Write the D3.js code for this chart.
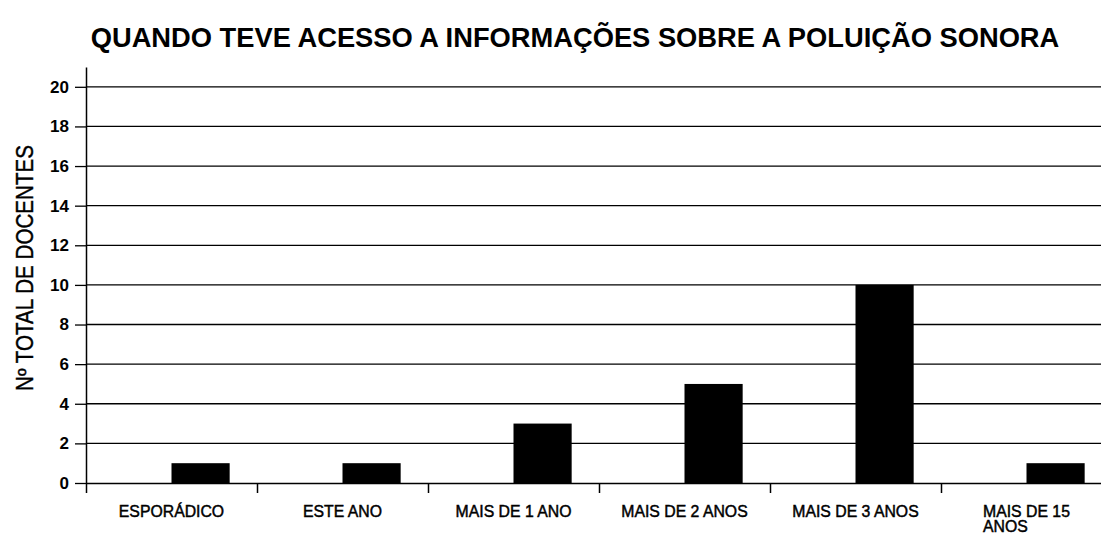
<!DOCTYPE html>
<html>
<head>
<meta charset="utf-8">
<script src="https://cdn.jsdelivr.net/npm/d3@7"></script>
<style>
  body { margin: 0; background: #fff; }
  svg { display: block; font-family: "Liberation Sans", Arial, sans-serif; }
</style>
</head>
<body>
<svg id="chart"></svg>
<script>
// dados
const categorias = ["ESPORÁDICO", "ESTE ANO", "MAIS DE 1 ANO", "MAIS DE 2 ANOS", "MAIS DE 3 ANOS", "MAIS DE 15 ANOS"]
const rotulos = [["ESPORÁDICO"], ["ESTE ANO"], ["MAIS DE 1 ANO"], ["MAIS DE 2 ANOS"], ["MAIS DE 3 ANOS"], ["MAIS DE 15", "ANOS"]]
const docentes = [1, 1, 3, 5, 10, 1]
const yTicks = [0, 2, 4, 6, 8, 10, 12, 14, 16, 18, 20]
const titulo = "QUANDO TEVE ACESSO A INFORMAÇÕES SOBRE A POLUIÇÃO SONORA"
const tituloY = "Nº TOTAL DE DOCENTES"

const width = 1101, height = 534
const margin = {top: 67, right: -11, bottom: 51, left: 86}

const svg = d3.select("#chart")
              .attr("width", width)
              .attr("height", height)

const x = d3.scaleBand()
            .domain(categorias)
            .range([margin.left, width - margin.right])
            .padding(0)

// serie vazia + serie de docentes (barra fica na metade direita da categoria)
const xSub = d3.scaleBand()
               .domain(["vazio", "docentes"])
               .range([0, x.bandwidth()])
               .paddingInner(0)
               .paddingOuter(0.47)

const y = d3.scaleLinear()
            .domain([0, 21])
            .range([height - margin.bottom, margin.top])

// linhas de grade
svg.append("g")
   .selectAll("line")
   .data(yTicks.slice(1))
   .join("line")
     .attr("x1", margin.left)
     .attr("x2", width - margin.right)
     .attr("y1", d => y(d))
     .attr("y2", d => y(d))
     .attr("stroke", "#000")
     .attr("stroke-width", 1.3)

// barras
svg.append("g")
   .selectAll("rect")
   .data(docentes)
   .join("rect")
     .attr("x", (d, i) => x(categorias[i]) + xSub("docentes"))
     .attr("width", xSub.bandwidth())
     .attr("y", d => y(d))
     .attr("height", d => y(0) - y(d))
     .attr("fill", "#000")

// eixo y
const yAxis = svg.append("g")
   .attr("transform", `translate(${margin.left},0)`)
   .call(d3.axisLeft(y).tickValues(yTicks).tickSize(11).tickPadding(6).tickSizeOuter(0))
yAxis.select(".domain").attr("stroke-width", 1.5)
yAxis.selectAll(".tick line").attr("stroke-width", 1.3)
yAxis.selectAll("text")
     .attr("font-size", 17)
     .attr("font-weight", "bold")
     .attr("fill", "#000")
     .attr("font-family", "Liberation Sans, Arial, sans-serif")

// eixo x (marcas nas divisas das categorias)
const xEdge = d3.scaleLinear()
                .domain([0, categorias.length])
                .range(x.range())
const xAxis = svg.append("g")
   .attr("transform", `translate(0,${y(0)})`)
   .call(d3.axisBottom(xEdge).tickValues(d3.range(categorias.length + 1)).tickFormat("").tickSize(10).tickSizeOuter(0))
xAxis.select(".domain").attr("stroke-width", 1.5)
xAxis.selectAll(".tick line").attr("stroke-width", 1.5)

// rotulos das categorias
const rot = svg.append("g")
   .selectAll("text")
   .data(rotulos)
   .join("text")
     .attr("font-size", 15.8)
     .attr("fill", "#000")
     .attr("stroke", "#000")
     .attr("stroke-width", 0.45)
     .attr("y", 517)

rot.each(function(linhas, i) {
  const t = d3.select(this)
  const cx = x(categorias[i]) + x.bandwidth() / 2
  if (linhas.length === 1) {
    t.attr("x", cx).attr("text-anchor", "middle").text(linhas[0])
  } else {
    t.text(linhas[0])
    const w = this.getComputedTextLength()
    t.text("")
    linhas.forEach((l, j) => {
      t.append("tspan")
       .attr("x", cx - w / 2)
       .attr("dy", j === 0 ? 0 : 15)
       .text(l)
    })
  }
})

// titulo
svg.append("text")
   .attr("x", 575)
   .attr("y", 47)
   .attr("text-anchor", "middle")
   .attr("font-size", 27.3)
   .attr("font-weight", "bold")
   .text(titulo)

// titulo do eixo y (fonte estreita no original)
svg.append("text")
   .attr("transform", `translate(33,268) rotate(-90)`)
   .attr("text-anchor", "middle")
   .attr("font-size", 23)
   .attr("stroke", "#000")
   .attr("stroke-width", 0.4)
   .attr("textLength", 246)
   .attr("lengthAdjust", "spacingAndGlyphs")
   .text(tituloY)
</script>
</body>
</html>
